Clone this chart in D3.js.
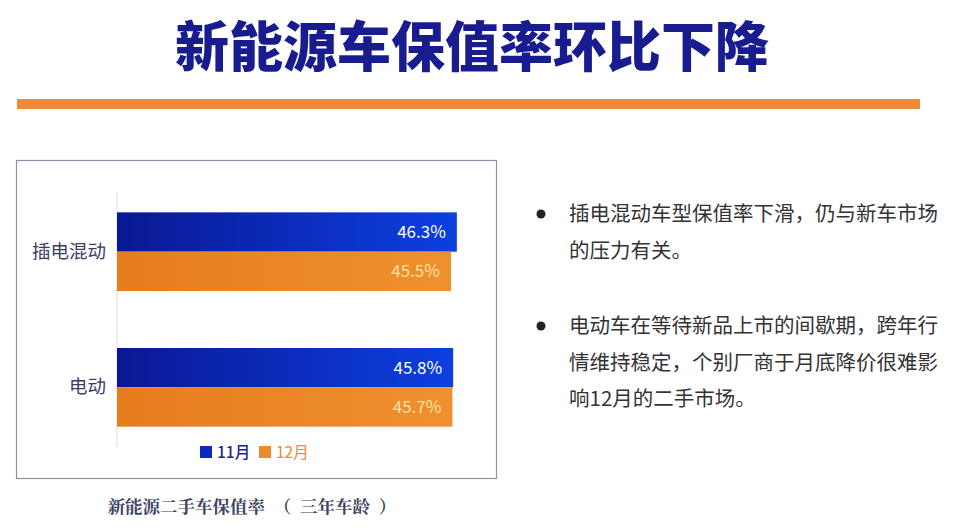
<!DOCTYPE html>
<html><head><meta charset="utf-8">
<script src="https://cdn.jsdelivr.net/npm/d3@7"></script>
<style>
html,body{margin:0;padding:0;background:#fff;}
svg{display:block;font-family:"Noto Sans CJK SC","Noto Sans",sans-serif;}
</style></head><body>
<svg id="c" width="960" height="532"></svg>
<script>
const title = "新能源车保值率环比下降";
const categories = ["插电混动", "电动"];
const seriesNames = ["11月", "12月"];
const nov = [46.3, 45.8];
const dec = [45.5, 45.7];
const caption = "新能源二手车保值率  （  三年车龄  ）";
const bullets = [
  ["插电混动车型保值率下滑，仍与新车市场", "的压力有关。"],
  ["电动车在等待新品上市的间歇期，跨年行", "情维持稳定，个别厂商于月底降价很难影", "响12月的二手市场。"]
];

const svg = d3.select("#c");
const defs = svg.append("defs");
const gb = defs.append("linearGradient").attr("id","gBlue");
gb.append("stop").attr("offset","0%").attr("stop-color","#0a1894");
gb.append("stop").attr("offset","100%").attr("stop-color","#0d3fe0");
const go = defs.append("linearGradient").attr("id","gOrange");
go.append("stop").attr("offset","0%").attr("stop-color","#e67d1c");
go.append("stop").attr("offset","100%").attr("stop-color","#f0902e");

// Title
svg.append("text").attr("x", 472).attr("y", 67).attr("text-anchor","middle")
  .attr("font-size", 54).attr("font-weight", 900).attr("fill", "#181c8e")
  .text(title);
svg.append("rect").attr("x", 17).attr("y", 99).attr("width", 903).attr("height", 10).attr("fill", "#f08a3a");

// Chart frame
svg.append("rect").attr("x", 16.5).attr("y", 160.5).attr("width", 480).attr("height", 318)
  .attr("fill","#fff").attr("stroke","#8a92a6").attr("stroke-width",1.2);

const x = d3.scaleLinear().domain([0, 50]).range([117, 484]);
const y0 = d3.scaleBand().domain(categories).range([192, 447]).paddingInner(0.42).paddingOuter(0.15);
const y1 = d3.scaleBand().domain(seriesNames).range([0, y0.bandwidth()]).padding(0);

svg.append("line").attr("x1", 117).attr("x2", 117).attr("y1", 192).attr("y2", 447)
  .attr("stroke","#d8dbe2").attr("stroke-width",1);

const data = categories.map((c,i)=>({c, vals:[{s:"11月", v:nov[i]},{s:"12月", v:dec[i]}]}));
const g = svg.selectAll("g.cat").data(data).join("g").attr("class","cat")
  .attr("transform", d=>`translate(0,${y0(d.c)})`);
g.selectAll("rect").data(d=>d.vals).join("rect")
  .attr("x", x(0)).attr("y", d=>y1(d.s)).attr("height", y1.bandwidth())
  .attr("width", d=>x(d.v)-x(0))
  .attr("fill", d=> d.s==="11月" ? "url(#gBlue)" : "url(#gOrange)");
g.selectAll("text.v").data(d=>d.vals).join("text").attr("class","v")
  .attr("x", d=>x(d.v)-11).attr("y", d=>y1(d.s)+y1.bandwidth()/2+6)
  .attr("text-anchor","end").attr("font-size",17)
  .attr("fill", d=> d.s==="11月" ? "#ffffff" : "#fbe3a6")
  .text(d=>d.v.toFixed(1)+"%");

svg.selectAll("text.cat").data(categories).join("text").attr("class","cat")
  .attr("x", 106).attr("y", d=>y0(d)+y0.bandwidth()/2+6)
  .attr("text-anchor","end").attr("font-size",18.5).attr("fill","#3b4060")
  .text(d=>d);

// Legend
const legColors = ["#0b2bc0", "#ee8a2a"];
const legText = ["#1a2590", "#ee8a2a"];
const legX = [200, 259];
seriesNames.forEach((s,i)=>{
  svg.append("rect").attr("x", legX[i]).attr("y", 446).attr("width", 12).attr("height", 12).attr("fill", legColors[i]);
  svg.append("text").attr("x", legX[i]+17).attr("y", 458).attr("font-size",15.5)
    .attr("font-weight", i===0 ? 500 : 400).attr("fill", legText[i]).text(s);
});

// Caption
svg.append("text").attr("x", 252).attr("y", 513).attr("text-anchor","middle")
  .attr("font-size", 17.5).attr("font-weight", 700).attr("fill", "#3e4462")
  .attr("xml:space","preserve").style("white-space","pre")
  .style("font-family", "'Noto Serif CJK SC','Noto Sans CJK SC',serif")
  .text(caption);

// Bullets
const startY = [221, 333];
bullets.forEach((lines, bi)=>{
  svg.append("circle").attr("cx", 541).attr("cy", startY[bi]-7).attr("r", 4.5).attr("fill", "#222");
  lines.forEach((t, li)=>{
    svg.append("text").attr("x", 569).attr("y", startY[bi] + li*36.5)
      .attr("font-size", 20.5).attr("fill","#333").text(t);
  });
});
</script>
</body></html>
